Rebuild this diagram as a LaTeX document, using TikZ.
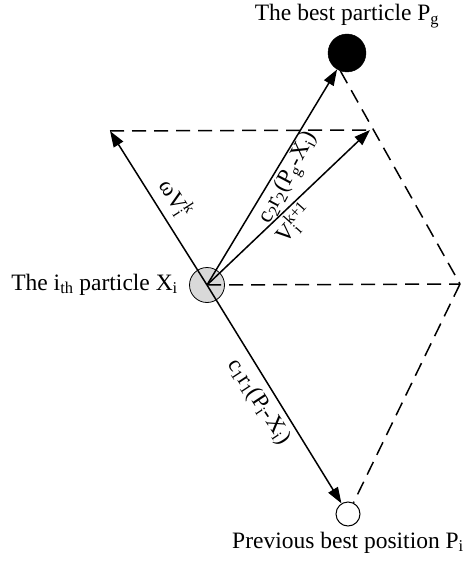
\documentclass[tikz,border=0pt]{standalone}
\usepackage{fontspec}
\setmainfont{Liberation Serif}
\usetikzlibrary{arrows.meta}
\newcommand{\sbsp}[2]{\makebox[0pt][l]{\textsubscript{#1}}\textsuperscript{#2}}
\begin{document}
\begin{tikzpicture}[x=1pt,y=-1pt,
  txt/.style={inner sep=0pt, font=\fontsize{23.5}{28}\selectfont},
  lab/.style={inner sep=0pt, font=\fontsize{23}{28}\selectfont},
  vec/.style={line width=1.5pt, -{Triangle[length=16pt,width=11pt]}},
  dash line/.style={line width=1.5pt, dash pattern=on 14pt off 8pt}]
\useasboundingbox (0,0) rectangle (472,561);
\node[circle, draw, fill=gray!30, minimum size=35pt, inner sep=0pt, line width=0.8pt] (X) at (207,285) {};
\node[circle, draw, fill=black, minimum size=38pt, inner sep=0pt] (G) at (347,53) {};
\node[circle, draw, fill=white, minimum size=24pt, inner sep=0pt, line width=1pt] (P) at (348,514) {};
\coordinate (L) at (110,131);
\coordinate (T) at (370,130);
\coordinate (R) at (460,284);
% dashed construction lines
\draw[dash line] (L) -- (T);
\draw[dash line] (X.center) -- (R);
\draw[dash line] (G.-110) -- (R);
\draw[dash line] (R) -- (P);
% vectors
\draw[vec] (X.center) -- (L);
\draw[vec] (X.center) -- (G);
\draw[vec] (X.center) -- (T);
\draw[vec] (X.center) -- (P);
% texts
\node[txt, anchor=base] (tg) at (347,21) {The best particle P\textsubscript{g}};
\node[txt, anchor=base east] (tx) at (178,290) {The i\textsubscript{th} particle X\textsubscript{i}};
\node[txt, anchor=base] (tp) at (348,548) {Previous best position P\textsubscript{i}};
% labels
\node[lab, rotate=-57.8] (lw) at (176,198) {ωV\sbsp{i}{k}};
\node[lab, rotate=62] (lg) at (289,178) {c\textsubscript{2}r\textsubscript{2}(P\textsubscript{g}-X\textsubscript{i})};
\node[lab, rotate=48] (lv) at (294,223) {V\sbsp{i}{k+1}};
\node[lab, rotate=-56.7] (lp) at (259,402) {c\textsubscript{1}r\textsubscript{1}(P\textsubscript{i}-X\textsubscript{i})};
\end{tikzpicture}
\end{document}
